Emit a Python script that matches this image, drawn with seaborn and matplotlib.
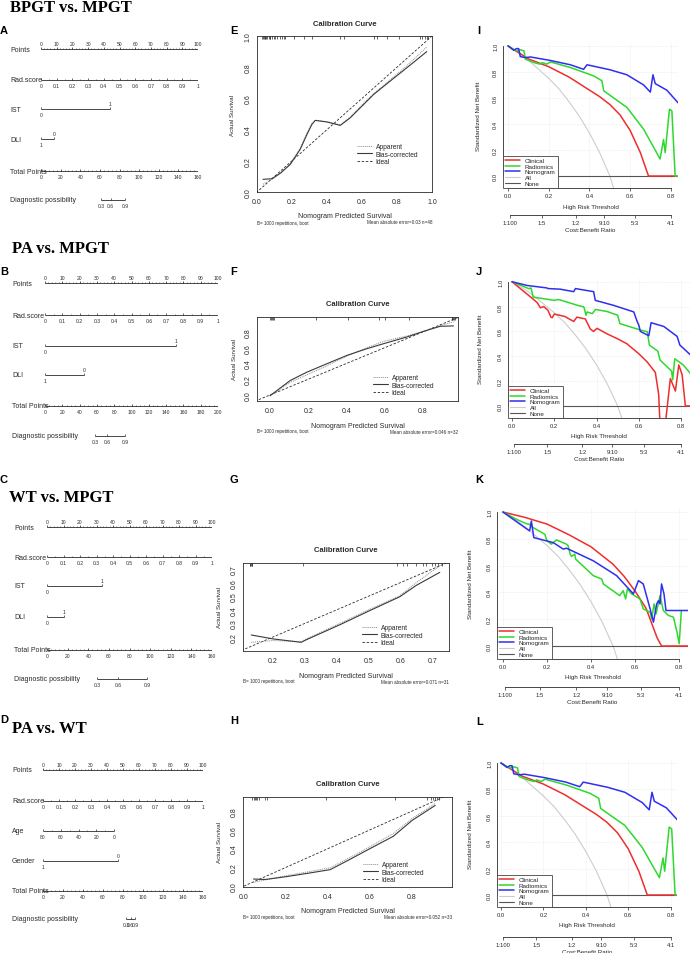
import matplotlib
matplotlib.use('Agg')
import matplotlib.pyplot as plt
from matplotlib.lines import Line2D
import seaborn as sns

sns.set_style('white')
plt.rcParams['font.family'] = ['Liberation Sans', 'DejaVu Sans']

W, H = 690, 954
fig = plt.figure(figsize=(W / 100, H / 100), dpi=100)
INK = '#2a2a2a'

# ---------------- nomogram scales ----------------
points_ticks = [0, 10, 20, 30, 40, 50, 60, 70, 80, 90, 100]
rad_ticks = [0, 0.1, 0.2, 0.3, 0.4, 0.5, 0.6, 0.7, 0.8, 0.9, 1]
total_160 = [0, 20, 40, 60, 80, 100, 120, 140, 160]
total_200 = [0, 20, 40, 60, 80, 100, 120, 140, 160, 180, 200]
diag_labels = ['0.3', '0.6', '0.9']

# points given to the second level of each binary predictor
A_ist = [0, 44]
A_dli = [0, 8.3]
B_ist = [0, 75.7]
B_dli = [0, 22.5]
C_ist = [0, 33.3]
C_dli = [0, 10.3]
D_gender = [0, 46.9]
D_age_labels = [80, 60, 40, 20, 0]
D_age_pts = [0, 11.1, 22.2, 33.3, 44.4]
D_age_minor = [5.55, 16.65, 27.75, 38.85]
# total points where diagnostic possibility = 0.3 / 0.6 / 0.9
A_diag = [61, 71, 86]
B_diag = [58, 72, 92.5]
C_diag = [48.5, 69, 97]
D_diag = [83, 87.5, 92]

# ---------------- calibration curves ----------------
ideal = [-0.2, 1.2]
E_pred = [0.034, 0.085, 0.133, 0.19, 0.247, 0.286, 0.314, 0.333, 0.4, 0.476, 0.533, 0.61, 0.667, 0.762, 0.857, 0.97]
E_app = [0.05, 0.08, 0.12, 0.18, 0.28, 0.38, 0.44, 0.46, 0.45, 0.43, 0.48, 0.57, 0.63, 0.72, 0.81, 0.93]
E_bc = [0.081, 0.085, 0.12, 0.177, 0.274, 0.37, 0.434, 0.459, 0.449, 0.427, 0.476, 0.562, 0.626, 0.712, 0.797, 0.9]
E_rug = [0.028, 0.034, 0.038, 0.044, 0.047, 0.053, 0.057, 0.066, 0.072, 0.076, 0.085, 0.095, 0.105, 0.114,
         0.133, 0.143, 0.152, 0.162, 0.21, 0.266, 0.314, 0.476, 0.495, 0.667, 0.686, 0.743, 0.81, 0.933,
         0.943, 0.962, 0.971, 0.98]

F_pred = [0.0, 0.105, 0.192, 0.297, 0.402, 0.506, 0.594, 0.716, 0.821, 0.891, 0.96]
F_app = [-0.01, 0.16, 0.255, 0.37, 0.494, 0.6, 0.681, 0.749, 0.821, 0.88, 0.928]
F_bc = [-0.01, 0.183, 0.289, 0.396, 0.502, 0.587, 0.651, 0.736, 0.821, 0.872, 0.877]
F_rug = [0.0, 0.005, 0.01, 0.015, 0.02, 0.24, 0.41, 0.57, 0.6, 0.73, 0.95, 0.955, 0.96, 0.965, 0.97]

G_pred = [0.132, 0.2, 0.289, 0.305, 0.41, 0.5, 0.598, 0.65, 0.724]
G_app = [0.161, 0.174, 0.166, 0.186, 0.3, 0.4, 0.503, 0.6, 0.725]
G_bc = [0.215, 0.186, 0.161, 0.18, 0.29, 0.39, 0.496, 0.58, 0.676]
G_rug = [0.127, 0.129, 0.131, 0.133, 0.135, 0.294, 0.59, 0.61, 0.62, 0.65, 0.67, 0.68, 0.70, 0.71, 0.72, 0.73]

H_pred = [0.045, 0.1, 0.2, 0.3, 0.41, 0.5, 0.6, 0.71, 0.8, 0.91]
H_app = [0.04, 0.065, 0.11, 0.15, 0.195, 0.3, 0.42, 0.56, 0.72, 0.88]
H_bc = [0.075, 0.07, 0.1, 0.135, 0.175, 0.28, 0.4, 0.53, 0.70, 0.86]
H_rug = [0.04, 0.045, 0.05, 0.055, 0.06, 0.07, 0.1, 0.11, 0.39, 0.72, 0.87, 0.89, 0.9, 0.91, 0.92, 0.93]

# ---------------- decision curves ----------------
all_x = [0, 0.05, 0.1, 0.15, 0.2, 0.25, 0.3, 0.35, 0.4, 0.45, 0.5, 0.52]
all_y = [1.0, 0.95, 0.89, 0.82, 0.75, 0.67, 0.57, 0.46, 0.33, 0.18, 0.0, -0.1]
none_x = [0, 0.84]
none_y = [0, 0]

I_clin_x = [0, 0.05, 0.1, 0.2, 0.3, 0.4, 0.45, 0.5, 0.55, 0.6, 0.65, 0.69, 0.83]
I_clin_y = [1.0, 0.95, 0.90, 0.84, 0.76, 0.66, 0.61, 0.55, 0.47, 0.35, 0.18, 0.0, 0.0]
I_rad_x = [0, 0.037, 0.062, 0.078, 0.085, 0.126, 0.159, 0.167, 0.19, 0.208, 0.306, 0.42, 0.461, 0.47,
           0.584, 0.666, 0.747, 0.764, 0.772, 0.793, 0.805, 0.821, 0.838]
I_rad_y = [1.0, 0.962, 0.97, 0.962, 0.898, 0.872, 0.859, 0.872, 0.86, 0.877, 0.834, 0.77, 0.732, 0.655,
           0.527, 0.36, 0.131, 0.28, 0.18, 0.514, 0.5, 0.0, 0.0]
I_nom_x = [0, 0.028, 0.041, 0.052, 0.06, 0.085, 0.11, 0.208, 0.306, 0.371, 0.388, 0.502, 0.584, 0.666,
           0.699, 0.712, 0.723, 0.78, 0.837]
I_nom_y = [1.0, 0.966, 0.979, 0.979, 0.918, 0.91, 0.915, 0.888, 0.855, 0.82, 0.855, 0.816, 0.778, 0.7,
           0.645, 0.778, 0.71, 0.66, 0.56]

J_clin_x = [0, 0.05, 0.1, 0.12, 0.134, 0.15, 0.17, 0.184, 0.19, 0.2, 0.25, 0.292, 0.307, 0.347, 0.37,
            0.386, 0.402, 0.45, 0.5, 0.544, 0.6, 0.639, 0.678, 0.694, 0.70, 0.725, 0.749, 0.773, 0.789,
            0.805, 0.82, 0.85]
J_clin_y = [1.0, 0.93, 0.86, 0.83, 0.79, 0.80, 0.77, 0.715, 0.71, 0.74, 0.72, 0.68, 0.715, 0.70, 0.62,
            0.60, 0.625, 0.58, 0.54, 0.50, 0.42, 0.355, 0.27, 0.09, -0.15, -0.15, 0.22, 0.12, 0.33, 0.25,
            0.0, 0.0]
J_rad_x = [0, 0.08, 0.09, 0.1, 0.15, 0.2, 0.22, 0.31, 0.34, 0.35, 0.355, 0.38, 0.395, 0.45, 0.5, 0.51,
           0.61, 0.64, 0.65, 0.69, 0.70, 0.755, 0.76, 0.77, 0.81, 0.845]
J_rad_y = [1.0, 0.944, 0.95, 0.876, 0.863, 0.85, 0.857, 0.81, 0.797, 0.73, 0.757, 0.743, 0.777, 0.76,
           0.73, 0.663, 0.61, 0.597, 0.49, 0.44, 0.37, 0.28, 0.21, 0.38, 0.33, 0.26]
J_nom_x = [0, 0.071, 0.165, 0.17, 0.228, 0.292, 0.3, 0.386, 0.394, 0.48, 0.576, 0.592, 0.6, 0.607,
           0.647, 0.658, 0.718, 0.765, 0.781, 0.794, 0.845]
J_nom_y = [1.0, 0.97, 0.95, 0.945, 0.94, 0.92, 0.945, 0.92, 0.85, 0.81, 0.757, 0.68, 0.65, 0.60,
           0.565, 0.67, 0.64, 0.58, 0.56, 0.49, 0.41]

K_clin_x = [0, 0.1, 0.2, 0.3, 0.4, 0.5, 0.55, 0.6, 0.65, 0.7, 0.72, 0.84]
K_clin_y = [1.0, 0.96, 0.91, 0.83, 0.74, 0.61, 0.52, 0.41, 0.28, 0.06, 0.0, 0.0]
K_rad_x = [0, 0.061, 0.106, 0.121, 0.137, 0.19, 0.2, 0.22, 0.243, 0.288, 0.296, 0.304, 0.311, 0.326,
           0.33, 0.41, 0.448, 0.456, 0.53, 0.546, 0.557, 0.565, 0.584, 0.622, 0.637, 0.668, 0.675, 0.686,
           0.695, 0.713, 0.728, 0.751, 0.774, 0.79, 0.8, 0.81]
K_rad_y = [1.0, 0.946, 0.913, 0.908, 0.884, 0.834, 0.785, 0.76, 0.792, 0.76, 0.748, 0.693, 0.668, 0.686,
           0.649, 0.525, 0.5, 0.463, 0.376, 0.413, 0.351, 0.426, 0.389, 0.351, 0.277, 0.252, 0.203, 0.314,
           0.24, 0.376, 0.265, 0.228, 0.215, 0.104, 0.017, 0.265]
K_nom_x = [0, 0.121, 0.129, 0.14, 0.228, 0.274, 0.288, 0.304, 0.41, 0.516, 0.592, 0.615, 0.637, 0.668,
           0.683, 0.698, 0.706, 0.713, 0.72, 0.731, 0.74, 0.84]
K_nom_y = [1.0, 0.859, 0.933, 0.809, 0.772, 0.723, 0.73, 0.718, 0.636, 0.525, 0.389, 0.488, 0.463, 0.277,
           0.178, 0.314, 0.339, 0.314, 0.463, 0.389, 0.265, 0.265]

thr_ticks = [0, 0.2, 0.4, 0.6, 0.8]
nb_ticks = [0, 0.2, 0.4, 0.6, 0.8, 1.0]
cost_pos = [0.0099, 0.1667, 0.3333, 0.4737, 0.625, 0.8]
cost_labels = ['1:100', '1:5', '1:2', '9:10', '5:3', '4:1']
dca_names = ['Clinical', 'Radiomics', 'Nomogram', 'All', 'None']
dca_colors = ['#ee2e2e', '#2fd82f', '#2f2fee', '#cdcdcd', '#555555']


def rect(x0, y0, x1, y1):
    return [x0 / W, 1 - y1 / H, (x1 - x0) / W, (y1 - y0) / H]


def ftext(x, y, s, **kw):
    kw.setdefault('color', INK)
    fig.text(x / W, 1 - y / H, s, **kw)


def lab(v):
    return '%g' % v


def nomo_row(ax, y, pos, labels, side, minor=()):
    ax.plot([min(pos), max(pos)], [y, y], color=INK, lw=0.6, solid_capstyle='butt')
    ax.vlines(pos, y, y - 2.2, color=INK, lw=0.5)
    if len(minor):
        ax.vlines(minor, y, y - 1.3, color=INK, lw=0.4)
    for i, (p, s) in enumerate(zip(pos, labels)):
        up = side == 'up' or (side == 'alt' and i == 1)
        ax.text(p, y - 5.8 if up else y + 5.8, s, ha='center', va='center',
                fontsize=3.6, color=INK)


def nomogram(x0, x1, label_x, rows):
    ys = [r[1] for r in rows]
    ax = fig.add_axes(rect(x0, min(ys) - 15, x1, max(ys) + 15))
    ax.set_xlim(0, 100)
    ax.set_ylim(max(ys) + 15, min(ys) - 15)
    ax.axis('off')
    for name, y, pos, labels, side, minor in rows:
        nomo_row(ax, y, pos, labels, side, minor)
        ftext(label_x, y, name, fontsize=5, ha='left', va='center')


def standard_rows(ys, ist, ist_lab, dli, dli_lab, total, diag):
    tmax = total[-1]
    step = 4 if tmax == 160 else 5
    return [
        ('Points', ys[0], points_ticks, [lab(v) for v in points_ticks], 'up', list(range(0, 101, 2))),
        ('Rad.score', ys[1], [v * 100 for v in rad_ticks], [lab(v) for v in rad_ticks], 'down',
         [v * 100 + 5 for v in rad_ticks[:-1]]),
        ('IST', ys[2], ist, ist_lab, 'alt', []),
        ('DLI', ys[3], dli, dli_lab, 'alt', []),
        ('Total Points', ys[4], [v / tmax * 100 for v in total], [lab(v) for v in total], 'down',
         [v / tmax * 100 for v in range(0, tmax + 1, step)]),
        ('Diagnostic possibility', ys[5], [v / tmax * 100 for v in diag], diag_labels, 'down', []),
    ]


def calib(box, xlim, ylim, xt, yt, pred, app, bc, rug, leg, err, ylab_x):
    x0, y0, x1, y1 = box
    ax = fig.add_axes(rect(*box))
    sns.lineplot(x=ideal, y=ideal, ax=ax, color=INK, linewidth=0.6, linestyle=(0, (3, 2)),
                 estimator=None, sort=False)
    sns.lineplot(x=pred, y=app, ax=ax, color='#8a8a8a', linewidth=0.7, linestyle=(0, (1, 1)),
                 estimator=None, sort=False)
    sns.lineplot(x=pred, y=bc, ax=ax, color='#3a3a3a', linewidth=0.8, estimator=None, sort=False)
    ax.set_xlim(xlim)
    ax.set_ylim(ylim)
    ax.set_xticks(xt)
    ax.set_xticklabels(['%.1f' % v for v in xt])
    ax.set_yticks(yt)
    ax.set_yticklabels(['%.1f' % v for v in yt], rotation=90, va='center')
    for s in ax.spines.values():
        s.set_linewidth(0.6)
        s.set_color(INK)
    ax.tick_params(direction='out', length=2.5, width=0.5, labelsize=5, pad=1.5, colors=INK)
    ax.vlines(rug, 1 - 3.0 / (y1 - y0), 1, transform=ax.get_xaxis_transform(), color=INK, lw=0.5)
    ftext((x0 + x1) / 2, y0 - 13, 'Calibration Curve', fontsize=5.5, weight='bold', ha='center', va='center')
    ftext((x0 + x1) / 2, y1 + 24, 'Nomogram Predicted Survival', fontsize=5, ha='center', va='center')
    ftext(x0, y1 + 30, 'B= 1000 repetitions, boot', fontsize=3.3, ha='left', va='center')
    ftext(x1, y1 + 30, err, fontsize=3.3, ha='right', va='center')
    ftext(ylab_x, (y0 + y1) / 2, 'Actual Survival', fontsize=4.5, rotation=90, ha='center', va='center')
    handles = [Line2D([], [], color='#8a8a8a', lw=0.7, ls=(0, (1, 1))),
               Line2D([], [], color='#3a3a3a', lw=0.8),
               Line2D([], [], color=INK, lw=0.6, ls=(0, (3, 2)))]
    ax.legend(handles, ['Apparent', 'Bias-corrected', 'Ideal'], loc='upper left',
              bbox_to_anchor=(leg[0] / W, 1 - leg[1] / H), bbox_transform=fig.transFigure,
              frameon=False, fontsize=4.8, handlelength=2.3, handletextpad=0.5,
              labelspacing=0.1, borderpad=0, borderaxespad=0)


def dca(box, xlim, ylim, curves, cost_gap, ylab_x):
    x0, y0, x1, y1 = box
    ax = fig.add_axes(rect(*box))
    ax.set_xlim(xlim)
    ax.set_ylim(ylim)
    ax.set_xticks(thr_ticks)
    ax.set_xticklabels(['%.1f' % v for v in thr_ticks])
    ax.set_yticks(nb_ticks)
    ax.set_yticklabels(['%.1f' % v for v in nb_ticks], rotation=90, va='center')
    ax.grid(True, color='#e9e9e9', lw=0.5, ls=(0, (1, 1)))
    sns.lineplot(x=all_x, y=all_y, ax=ax, color=dca_colors[3], linewidth=0.8, estimator=None, sort=False)
    sns.lineplot(x=none_x, y=none_y, ax=ax, color=dca_colors[4], linewidth=0.8, estimator=None, sort=False)
    for (cx, cy), col in zip(curves, dca_colors[:3]):
        sns.lineplot(x=cx, y=cy, ax=ax, color=col, linewidth=1.1, estimator=None, sort=False)
    for k in ['top', 'right']:
        ax.spines[k].set_visible(False)
    for k in ['left', 'bottom']:
        ax.spines[k].set_linewidth(0.6)
        ax.spines[k].set_color(INK)
    ax.spines['left'].set_bounds(0, 1)
    ax.spines['bottom'].set_bounds(0, 0.8)
    ax.tick_params(direction='out', length=2, width=0.5, labelsize=4.2, pad=1.5, colors=INK)
    handles = [Line2D([], [], color=c, lw=1.1 if i < 3 else 0.8) for i, c in enumerate(dca_colors)]
    leg = ax.legend(handles, dca_names, loc='lower left', borderaxespad=0, fancybox=False,
                    edgecolor='#444444', framealpha=1, fontsize=4.5, handlelength=2.3,
                    handletextpad=0.8, labelspacing=0.05, borderpad=0.35)
    leg.get_frame().set_linewidth(0.6)
    ax2 = ax.twiny()
    ax2.set_xlim(xlim)
    ax2.xaxis.set_ticks_position('bottom')
    for k in ['top', 'right', 'left']:
        ax2.spines[k].set_visible(False)
    ax2.spines['bottom'].set_position(('outward', cost_gap * 0.72))
    ax2.spines['bottom'].set_bounds(cost_pos[0], cost_pos[-1])
    ax2.spines['bottom'].set_linewidth(0.6)
    ax2.spines['bottom'].set_color(INK)
    ax2.set_xticks(cost_pos)
    ax2.set_xticklabels(cost_labels)
    ax2.tick_params(direction='out', length=2, width=0.5, labelsize=4.2, pad=1.5, colors=INK)
    cx = (x0 + x1) / 2
    ftext(cx, y1 + 18, 'High Risk Threshold', fontsize=4.5, ha='center', va='center')
    ftext(cx, y1 + cost_gap + 15, 'Cost:Benefit Ratio', fontsize=4.5, ha='center', va='center')
    ftext(ylab_x, (y0 + y1) / 2, 'Standardized Net Benefit', fontsize=4.5, rotation=90,
          ha='center', va='center')


# ---------------- titles and panel letters ----------------
for x, y, s in [(10, 12, 'BPGT vs. MPGT'), (12, 253, 'PA vs. MPGT'), (9, 502, 'WT vs. MPGT'),
                (12, 733, 'PA vs. WT')]:
    ftext(x, y, s, family='Liberation Serif', weight='bold', fontsize=12, ha='left', va='baseline',
          color='black')
for x, y, s in [(4, 31, 'A'), (4, 272, 'B'), (4, 480, 'C'), (4, 720, 'D'),
                (234, 31, 'E'), (234, 272, 'F'), (234, 480, 'G'), (234, 721, 'H'),
                (479, 31, 'I'), (479, 272, 'J'), (479, 480, 'K'), (480, 722, 'L')]:
    ftext(x, y, s, weight='bold', fontsize=8, ha='center', va='center', color='black')

# ---------------- nomograms ----------------
nomogram(41, 198, 10, standard_rows([50, 81, 110, 140, 172, 201], A_ist, ['0', '1'],
                                    A_dli, ['1', '0'], total_160, A_diag))
nomogram(45, 218, 12, standard_rows([284, 316, 347, 376, 407, 437], B_ist, ['0', '1'],
                                    B_dli, ['1', '0'], total_200, B_diag))
nomogram(47, 212, 14, standard_rows([528, 558, 587, 618, 651, 680], C_ist, ['0', '1'],
                                    C_dli, ['0', '1'], total_160, C_diag))
rows_D = standard_rows([771, 802, 832, 862, 892, 920], D_age_pts, [lab(v) for v in D_age_labels],
                       D_gender, ['1', '0'], total_160, D_diag)
rows_D[2] = ('Age', 832, D_age_pts, [lab(v) for v in D_age_labels], 'down', D_age_minor)
rows_D[3] = ('Gender', 862, D_gender, ['1', '0'], 'alt', [])
nomogram(43, 203, 12, rows_D)

# ---------------- calibration plots ----------------
calib((257, 37, 432, 193), (0, 1), (0, 1), [0, 0.2, 0.4, 0.6, 0.8, 1.0], [0, 0.2, 0.4, 0.6, 0.8, 1.0],
      E_pred, E_app, E_bc, E_rug, (357, 144), 'Mean absolute error=0.03 n=48', 233)
calib((257, 318, 458, 402), (-0.068, 0.984), (-0.076, 0.99), [0, 0.2, 0.4, 0.6, 0.8], [0, 0.2, 0.4, 0.6, 0.8],
      F_pred, F_app, F_bc, F_rug, (373, 375), 'Mean absolute error=0.046 n=32', 235)
calib((243, 564, 449, 652), (0.106, 0.753), (0.097, 0.745), [0.2, 0.3, 0.4, 0.5, 0.6, 0.7],
      [0.2, 0.3, 0.4, 0.5, 0.6, 0.7], G_pred, G_app, G_bc, G_rug, (362, 625),
      'Mean absolute error=0.071 n=31', 220)
calib((243, 798, 452, 888), (-0.005, 0.99), (-0.01, 0.95), [0, 0.2, 0.4, 0.6, 0.8], [0, 0.2, 0.4, 0.6, 0.8],
      H_pred, H_app, H_bc, H_rug, (363, 862), 'Mean absolute error=0.052 n=33', 220)

# ---------------- decision curves ----------------
I_curves = [(I_clin_x, I_clin_y), (I_rad_x, I_rad_y), (I_nom_x, I_nom_y)]
dca((503, 43, 678, 189), (-0.025, 0.835), (-0.092, 1.03), I_curves, 27, 478)
dca((508, 279, 690, 419), (-0.019, 0.842), (-0.097, 1.03),
    [(J_clin_x, J_clin_y), (J_rad_x, J_rad_y), (J_nom_x, J_nom_y)], 26, 480)
dca((497, 509, 688, 660), (-0.027, 0.84), (-0.097, 1.03),
    [(K_clin_x, K_clin_y), (K_rad_x, K_rad_y), (K_nom_x, K_nom_y)], 28, 471)
dca((497, 760, 677, 908), (-0.019, 0.83), (-0.091, 1.03), I_curves, 30, 471)

fig.savefig('out.png', dpi=100)
